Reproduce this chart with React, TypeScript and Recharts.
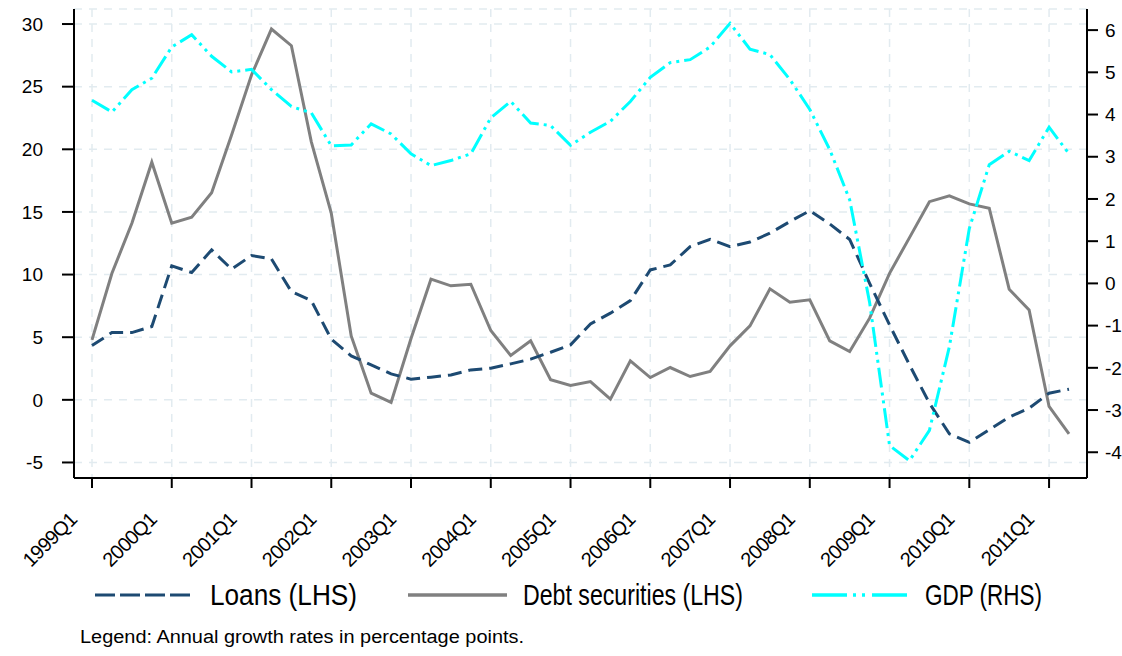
import { LineChart, Line, XAxis, YAxis, CartesianGrid } from "recharts";

const quarters = [
  "1999Q1", "1999Q2", "1999Q3", "1999Q4",
  "2000Q1", "2000Q2", "2000Q3", "2000Q4",
  "2001Q1", "2001Q2", "2001Q3", "2001Q4",
  "2002Q1", "2002Q2", "2002Q3", "2002Q4",
  "2003Q1", "2003Q2", "2003Q3", "2003Q4",
  "2004Q1", "2004Q2", "2004Q3", "2004Q4",
  "2005Q1", "2005Q2", "2005Q3", "2005Q4",
  "2006Q1", "2006Q2", "2006Q3", "2006Q4",
  "2007Q1", "2007Q2", "2007Q3", "2007Q4",
  "2008Q1", "2008Q2", "2008Q3", "2008Q4",
  "2009Q1", "2009Q2", "2009Q3", "2009Q4",
  "2010Q1", "2010Q2", "2010Q3", "2010Q4",
  "2011Q1", "2011Q2",
];

// annual growth, %, left axis
const loans = [
  4.33, 5.37, 5.37, 5.85, 10.7, 10.16, 11.97, 10.43, 11.52, 11.25,
  8.64, 7.92, 4.84, 3.51, 2.79, 2.07, 1.65, 1.81, 1.99, 2.39,
  2.53, 2.87, 3.25, 3.8, 4.39, 6.06, 6.92, 7.92, 10.37, 10.77,
  12.23, 12.82, 12.23, 12.6, 13.3, 14.23, 15.1, 14.04, 12.8, 9.3,
  5.98, 2.79, -0.27, -2.71, -3.4, -2.39, -1.38, -0.67, 0.53, 0.85,
];

const debtSecurities = [
  4.79, 10.1, 14.1, 18.97, 14.1, 14.58, 16.54, 21.14, 25.93, 29.6,
  28.27, 20.6, 14.9, 5.1, 0.53, -0.21, 4.9, 9.63, 9.1, 9.23,
  5.53, 3.54, 4.71, 1.6, 1.14, 1.46, 0.05, 3.11, 1.78, 2.58,
  1.86, 2.26, 4.31, 5.9, 8.86, 7.8, 7.98, 4.71, 3.86, 6.52,
  10.1, 12.95, 15.82, 16.28, 15.64, 15.3, 8.83, 7.18, -0.53, -2.71,
];

// right axis
const gdp = [
  4.34, 4.06, 4.59, 4.86, 5.6, 5.89, 5.38, 5.01, 5.07, 4.59,
  4.19, 4.04, 3.26, 3.28, 3.78, 3.54, 3.07, 2.79, 2.91, 3.07,
  3.92, 4.31, 3.8, 3.74, 3.27, 3.58, 3.84, 4.31, 4.88, 5.23,
  5.3, 5.6, 6.16, 5.55, 5.42, 4.83, 4.12, 3.17, 1.98, -0.45,
  -3.84, -4.2, -3.48, -1.5, 1.3, 2.81, 3.13, 2.91, 3.7, 3.07,
];

const leftTicks = [-5, 0, 5, 10, 15, 20, 25, 30];
const rightTicks = [-4, -3, -2, -1, 0, 1, 2, 3, 4, 5, 6];

const data = quarters.map((q, i) => ({
  q,
  loans: loans[i],
  debt: debtSecurities[i],
  gdp: gdp[i],
}));

const FONT = "'Liberation Sans', Arial, sans-serif";
const LOANS_COLOR = "#1d4a72";
const DEBT_COLOR = "#808080";
const GDP_COLOR = "#00ffff";

function QuarterTick(props: any) {
  const { x, y, payload } = props;
  return (
    <g transform={`translate(${x - 14},${y + 31})`}>
      <text
        x={0}
        y={0}
        textAnchor="end"
        transform="rotate(-45)"
        fontSize={20}
        fontFamily={FONT}
        fill="#000"
        letterSpacing={-0.8}
      >
        {payload.value}
      </text>
    </g>
  );
}

export default function App() {
  return (
    <div style={{ position: "absolute", left: 0, top: 0, width: 1122, height: 656, background: "#fff" }}>
      <LineChart
        width={1122}
        height={656}
        data={data}
        margin={{ top: 9, right: 0, left: 10, bottom: 78 }}
      >
        <CartesianGrid
          yAxisId="left"
          stroke="#e2ebf0"
          strokeWidth={1.5}
          strokeDasharray="8 7"
        />
        <XAxis
          dataKey="q"
          interval={3}
          height={100}
          padding={{ left: 18, right: 18 }}
          axisLine={{ stroke: "#000", strokeWidth: 2 }}
          tickLine={{ stroke: "#000", strokeWidth: 2 }}
          tickSize={10}
          tick={<QuarterTick />}
        />
        <XAxis
          xAxisId="top"
          dataKey="q"
          orientation="top"
          height={0}
          tick={false}
          tickLine={false}
          axisLine={{ stroke: "#000", strokeWidth: 2 }}
        />
        <YAxis
          yAxisId="left"
          width={64}
          domain={[-6.24, 31.2]}
          ticks={leftTicks}
          allowDataOverflow
          axisLine={{ stroke: "#000", strokeWidth: 2 }}
          tickLine={{ stroke: "#000", strokeWidth: 2 }}
          tickSize={12}
          tickMargin={19}
          tick={{ fontSize: 19, fontFamily: FONT, fill: "#000" }}
        />
        <YAxis
          yAxisId="right"
          orientation="right"
          width={35}
          domain={[-4.61, 6.5]}
          ticks={rightTicks}
          allowDataOverflow
          axisLine={{ stroke: "#000", strokeWidth: 2 }}
          tickLine={{ stroke: "#000", strokeWidth: 2 }}
          tickSize={11}
          tickMargin={7}
          tick={{ fontSize: 19, fontFamily: FONT, fill: "#000" }}
        />
        <Line
          yAxisId="left"
          dataKey="debt"
          stroke={DEBT_COLOR}
          strokeWidth={3}
          dot={false}
          activeDot={false}
          isAnimationActive={false}
        />
        <Line
          yAxisId="left"
          dataKey="loans"
          stroke={LOANS_COLOR}
          strokeWidth={3}
          strokeDasharray="14 7"
          dot={false}
          activeDot={false}
          isAnimationActive={false}
        />
        <Line
          yAxisId="right"
          dataKey="gdp"
          stroke={GDP_COLOR}
          strokeWidth={3}
          strokeDasharray="20 5 3 5 3 5"
          dot={false}
          activeDot={false}
          isAnimationActive={false}
        />
      </LineChart>
      <svg
        width={1122}
        height={656}
        style={{ position: "absolute", left: 0, top: 0, pointerEvents: "none" }}
        fontFamily={FONT}
      >
        <line x1={95} y1={595} x2={190} y2={595} stroke={LOANS_COLOR} strokeWidth={3} strokeDasharray="20 5" />
        <text x={210} y={605} fontSize={29} textLength={147} lengthAdjust="spacingAndGlyphs">
          Loans (LHS)
        </text>
        <line x1={408} y1={595} x2={507} y2={595} stroke={DEBT_COLOR} strokeWidth={3.5} />
        <text x={523} y={605} fontSize={29} textLength={220} lengthAdjust="spacingAndGlyphs">
          Debt securities (LHS)
        </text>
        <line x1={812} y1={595} x2={907} y2={595} stroke={GDP_COLOR} strokeWidth={3.5} strokeDasharray="35 6 3 6 3 7 35" />
        <text x={925} y={605} fontSize={29} textLength={117} lengthAdjust="spacingAndGlyphs">
          GDP (RHS)
        </text>
        <text x={80} y={643} fontSize={18} textLength={444} lengthAdjust="spacingAndGlyphs">
          Legend: Annual growth rates in percentage points.
        </text>
      </svg>
    </div>
  );
}
